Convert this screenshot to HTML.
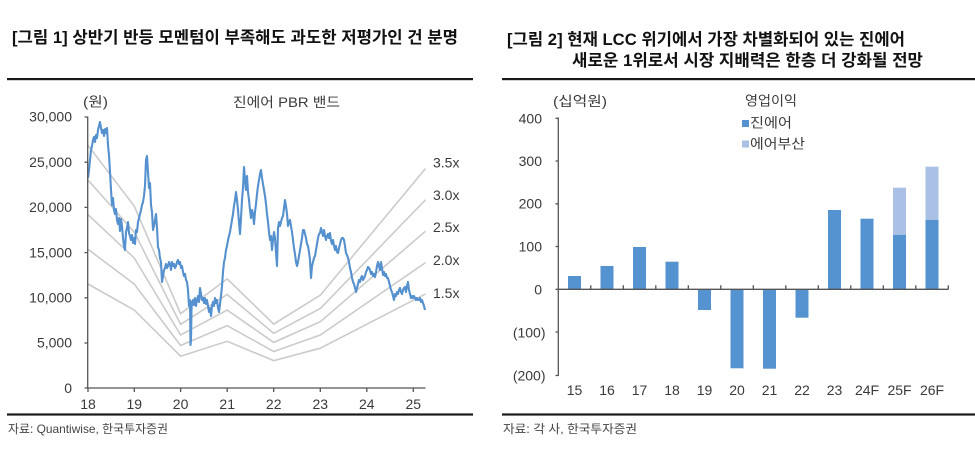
<!DOCTYPE html>
<html><head><meta charset="utf-8"><style>
html,body{margin:0;padding:0;background:#fff;}
svg{display:block;}
text{font-family:"Liberation Sans","Noto Sans CJK KR",sans-serif;fill:#3a3a3a;}
.t{font-weight:bold;fill:#111;font-size:16.5px;}
.n{font-size:14px;}
.s{font-size:12px;fill:#444;}
</style></head><body>
<svg width="975" height="452" viewBox="0 0 975 452" xmlns="http://www.w3.org/2000/svg">
<rect width="975" height="452" fill="#fff"/>
<!-- Titles -->
<text class="t" x="12" y="43" textLength="446" lengthAdjust="spacingAndGlyphs">[그림 1] 상반기 반등 모멘텀이 부족해도 과도한 저평가인 건 분명</text>
<text class="t" x="507" y="45" textLength="398" lengthAdjust="spacingAndGlyphs">[그림 2] 현재 LCC 위기에서 가장 차별화되어 있는 진에어</text>
<text class="t" x="572" y="66" textLength="351" lengthAdjust="spacingAndGlyphs">새로운 1위로서 시장 지배력은 한층 더 강화될 전망</text>
<!-- rules -->
<rect x="7" y="78" width="466" height="2.2" fill="#1a1a1a"/>
<rect x="502" y="78" width="473" height="2.2" fill="#1a1a1a"/>
<rect x="7" y="413.4" width="466" height="2.2" fill="#1a1a1a"/>
<rect x="502" y="413.4" width="473" height="2.2" fill="#1a1a1a"/>
<!-- Sources -->
<text class="s" x="8" y="433" textLength="160" lengthAdjust="spacingAndGlyphs">자료: Quantiwise, 한국투자증권</text>
<text class="s" x="503" y="433" textLength="134" lengthAdjust="spacingAndGlyphs">자료: 각 사, 한국투자증권</text>

<!-- LEFT CHART -->
<text x="83" y="106.5" style="font-size:13.5px" textLength="25" lengthAdjust="spacingAndGlyphs">(원)</text>
<text x="233" y="107" style="font-size:13.5px" textLength="107" lengthAdjust="spacingAndGlyphs">진에어 PBR 밴드</text>
<g class="n" text-anchor="end">
<text x="72" y="121.7">30,000</text>
<text x="72" y="166.9">25,000</text>
<text x="72" y="212.1">20,000</text>
<text x="72" y="257.3">15,000</text>
<text x="72" y="302.5">10,000</text>
<text x="72" y="347.7">5,000</text>
<text x="72" y="393">0</text>
</g>
<g class="n" text-anchor="middle">
<text x="88" y="409">18</text>
<text x="134.3" y="409">19</text>
<text x="180.6" y="409">20</text>
<text x="227.2" y="409">21</text>
<text x="273.7" y="409">22</text>
<text x="320.3" y="409">23</text>
<text x="366.8" y="409">24</text>
<text x="413.3" y="409">25</text>
</g>
<g class="n">
<text x="433" y="167.5">3.5x</text>
<text x="433" y="200">3.0x</text>
<text x="433" y="232">2.5x</text>
<text x="433" y="265">2.0x</text>
<text x="433" y="298">1.5x</text>
</g>
<!-- band lines -->
<g fill="none" stroke="#cbcbcb" stroke-width="1.6">
<polyline points="88,145.3 134.3,206.2 180.6,313.7 227.2,278.9 273.7,324.1 320.3,295.2 425.5,168.5"/>
<polyline points="88,180 134.3,232.2 180.6,324.3 227.2,294.5 273.7,333.3 320.3,308.5 425.5,199.8"/>
<polyline points="88,214.7 134.3,258.1 180.6,334.9 227.2,310.1 273.7,342.4 320.3,321.7 425.5,231.2"/>
<polyline points="88,249.3 134.3,284.1 180.6,345.5 227.2,325.7 273.7,351.5 320.3,335 425.5,262.6"/>
<polyline points="88,284 134.3,310.1 180.6,356.2 227.2,341.3 273.7,360.6 320.3,348.2 425.5,293.9"/>
</g>
<!-- price -->
<polyline fill="none" stroke="#5590cf" stroke-width="2.1" stroke-linejoin="round" points="88,178 89,170 90,160 91,150 92,146 93,140 94,137 95,142 96,135 97,138 98,130 99,126 100,122 101,128 102,133 103,130 104,136 105,129 106,133 107,128 108,145 109,155 110,172 111,190 112,205 113,198 114,210 115,214 116,209 117,220 118,224 119,218 120,231 121,219 122,226 123,238 124,246 125,250 126,232 127,228 128,222 129,233 130,236 131,240 132,235 133,243 134,238 135,244 136,230 137,232 138,222 139,218 140,214 141,210 142,205 143,202 144,196 145,186 146,160 147,156 148,172 149,188 150,183 151,205 152,212 153,230 154,226 155,220 156,214 157,228 158,247 159,250 160,258 161,262 162,282 163,276 164,270 165,268 166,264 167,268 168,266 169,262 170,264 171,270 172,262 173,266 174,264 175,268 176,266 177,262 178,260 179,264 180,262 181,268 182,266 183,272 184,276 185,274 186,280 187,282 188,290 189,306 190,300 190.5,345 191,340 191.5,310 192,302 193,300 194,305 195,298 196,306 197,300 198,296 199,302 200,288 201,294 202,300 203,298 204,303 205,298 206,304 207,300 208,306 209,312 210,308 211,316 212,306 213,302 214,306 215,298 216,303 217,300 218,308 219,312 220,304 221,296 222,286 223,272 224,262 225,258 226,250 227,246 228,240 229,236 230,232 231,226 232,220 233,214 234,206 235,200 236,192 237,200 238,210 239,222 240,234 241,218 242,200 243,188 244,167 245,180 246,190 247,176 248,192 249,200 250,210 251,218 252,210 253,214 254,224 255,212 256,204 257,194 258,186 259,180 260,174 261,170 262,178 263,184 264,190 265,196 266,204 267,214 268,222 269,232 270,240 271,236 272,250 273,240 274,232 275,238 276,252 277,266 278,228 279,222 280,226 281,222 282,218 283,216 284,208 285,200 286,206 287,214 288,226 289,222 290,220 291,226 292,232 293,240 294,248 295,254 296,262 297,266 298,262 299,256 300,250 301,244 302,238 303,230 304,230 305,234 306,238 307,244 308,246 309,252 310,260 311,278 312,266 313,262 314,258 315,256 316,250 317,244 318,238 319,234 320,233 321,228 322,232 323,236 324,230 325,236 326,240 327,236 328,234 329,238 330,233 331,241 332,244 333,240 334,246 335,250 336,246 337,252 338,253 339,248 340,244 341,240 342,238 343,238 344,240 345,246 346,253 347,255 348,258 349,262 350,268 351,272 352,278 353,282 354,284 355,288 356,292 357,288 358,284 359,280 360,282 361,278 362,276 363,280 364,278 365,276 366,272 367,270 368,267 369,268 370,270 371,274 372,272 373,276 374,274 375,277 376,272 377,266 378,262 379,266 380,270 381,262 382,268 383,275 384,272 385,276 386,274 387,278 388,278 389,282 390,286 391,290 392,292 393,296 394,300 395,294 396,296 397,292 398,294 399,290 400,288 401,292 402,294 403,290 404,288 405,287 406,292 407,286 408,282 409,290 410,294 411,298 412,296 413,298 414,296 415,298 416,300 417,298 418,300 419,300 420,298 421,302 422,300 423,303 424,306 425,310"/>
<!-- left axes -->
<g stroke="#555" stroke-width="1.3" fill="none">
<line x1="87.7" y1="116.5" x2="87.7" y2="388.5"/>
<line x1="87" y1="388" x2="425.5" y2="388"/>
<path d="M84.5 117H87.7M84.5 162.2H87.7M84.5 207.4H87.7M84.5 252.6H87.7M84.5 297.8H87.7M84.5 343H87.7M84.5 388H87.7"/>
<path d="M88 388V392M134.3 388V392M180.6 388V392M227.2 388V392M273.7 388V392M320.3 388V392M366.8 388V392M413.3 388V392"/>
</g>

<!-- RIGHT CHART -->
<text x="553" y="106" style="font-size:13.5px" textLength="54" lengthAdjust="spacingAndGlyphs">(십억원)</text>
<text x="745" y="105.5" style="font-size:13.5px" textLength="52" lengthAdjust="spacingAndGlyphs">영업이익</text>
<rect x="742" y="120" width="7" height="7" fill="#5592d0"/>
<text x="750" y="127.5" style="font-size:13.5px" textLength="42" lengthAdjust="spacingAndGlyphs">진에어</text>
<rect x="742" y="140.5" width="7" height="7" fill="#aac0e4"/>
<text x="750" y="148.5" style="font-size:13.5px" textLength="55" lengthAdjust="spacingAndGlyphs">에어부산</text>
<g class="n" text-anchor="end">
<text x="542" y="123.3">400</text>
<text x="542" y="165.9">300</text>
<text x="542" y="208.5">200</text>
<text x="542" y="251.6">100</text>
<text x="542" y="294.3">0</text>
<text x="545.5" y="337.5">(100)</text>
<text x="545.5" y="380.5">(200)</text>
</g>
<g class="n" text-anchor="middle">
<text x="574.5" y="395">15</text>
<text x="607" y="395">16</text>
<text x="639.5" y="395">17</text>
<text x="672" y="395">18</text>
<text x="704.5" y="395">19</text>
<text x="737" y="395">20</text>
<text x="769.5" y="395">21</text>
<text x="802" y="395">22</text>
<text x="834.5" y="395">23</text>
<text x="867" y="395">24F</text>
<text x="899.5" y="395">25F</text>
<text x="932" y="395">26F</text>
</g>
<!-- bars -->
<g fill="#5592d0">
<rect x="568" y="276" width="13" height="13.3"/>
<rect x="600.5" y="266" width="13" height="23.3"/>
<rect x="633" y="247" width="13" height="42.3"/>
<rect x="665.5" y="261.7" width="13" height="27.6"/>
<rect x="698" y="289.3" width="13" height="20.7"/>
<rect x="730.5" y="289.3" width="13" height="79"/>
<rect x="763" y="289.3" width="13" height="79.4"/>
<rect x="795.5" y="289.3" width="13" height="28.4"/>
<rect x="828" y="210" width="13" height="79.3"/>
<rect x="860.5" y="218.7" width="13" height="70.6"/>
<rect x="893" y="234.7" width="13" height="54.6"/>
<rect x="925.5" y="219.7" width="13" height="69.6"/>
</g>
<g fill="#aac0e4">
<rect x="893" y="187.7" width="13" height="47"/>
<rect x="925.5" y="166.7" width="13" height="53"/>
</g>
<!-- right axes -->
<g stroke="#555" stroke-width="1.3" fill="none">
<line x1="558.3" y1="117.5" x2="558.3" y2="376"/>
<line x1="558" y1="289.3" x2="948.5" y2="289.3"/>
<path d="M555.5 118.3H558.3M555.5 161H558.3M555.5 203.8H558.3M555.5 246.5H558.3M555.5 289.3H558.3M555.5 332H558.3M555.5 375.5H558.3"/>
<path d="M590.8 289.3V285.3M623.3 289.3V285.3M655.8 289.3V285.3M688.3 289.3V285.3M720.8 289.3V285.3M753.3 289.3V285.3M785.8 289.3V285.3M818.3 289.3V285.3M850.8 289.3V285.3M883.3 289.3V285.3M915.8 289.3V285.3M948.3 289.3V285.3"/>
</g>
</svg>
</body></html>
